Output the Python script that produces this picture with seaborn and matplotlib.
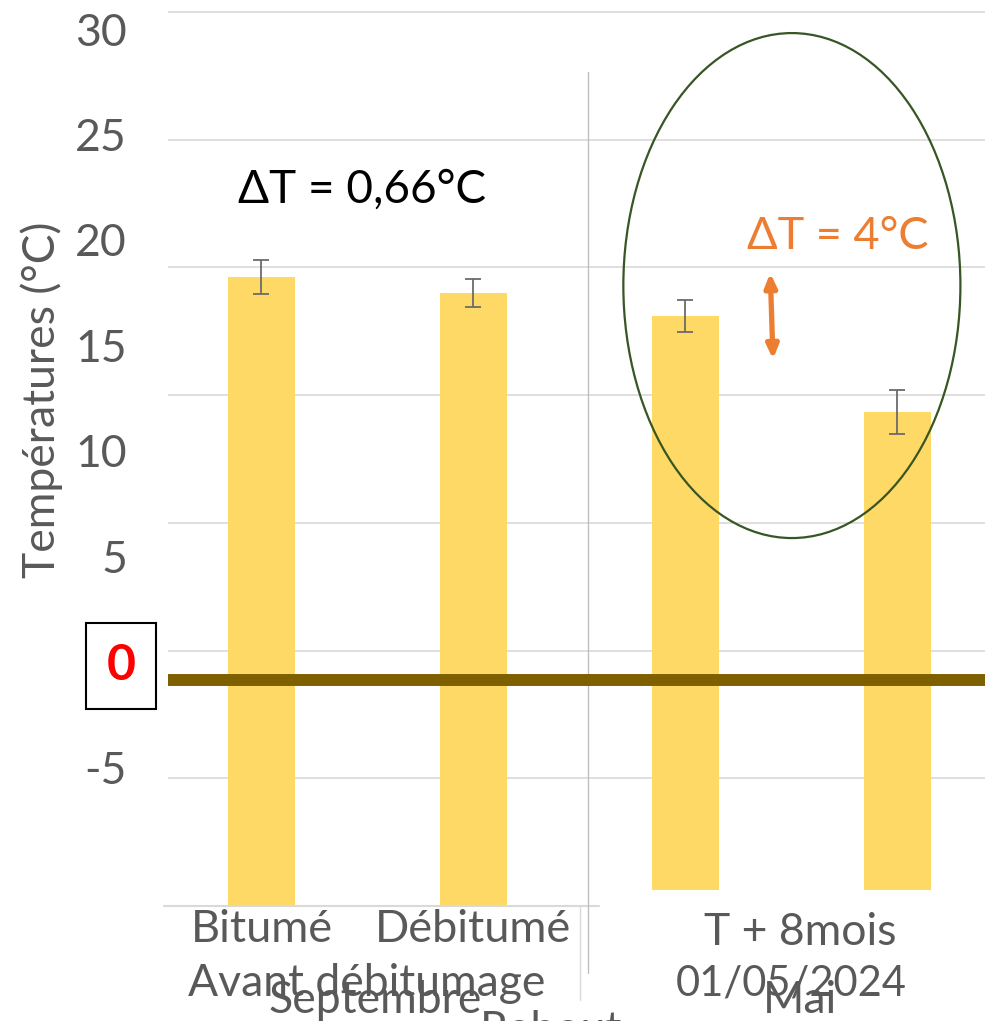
import numpy as np
import pandas as pd
import seaborn as sns
import matplotlib.pyplot as plt
from matplotlib.patches import Ellipse

sns.set_style("white")
plt.rcParams['font.family'] = ['Lato', 'DejaVu Sans']

# donnees
categories = ['Bitumé', 'Débitumé', 'Bitumé mai', 'Débitumé mai']
temperatures = [19.62, 19.0, 18.1, 14.34]
erreurs = [0.67, 0.53, 0.61, 0.88]
bases = [-5, -5, -4.37, -4.37]
graduations = [30, 25, 20, 15, 10, 5, 0, -5]
grille = [30, 25, 20, 15, 10, 5, 0]

df = pd.DataFrame({'cat': categories,
                   'haut': np.array(temperatures) - np.array(bases)})

gris = '#595959'
fig = plt.figure(figsize=(9.85, 10.21), dpi=100)
ax = fig.add_axes([168/985, 115/1021, 817/985, 906/1021])

sns.barplot(data=df, x='cat', y='haut', bottom=bases, width=0.316,
            color='#FFD966', saturation=1, errorbar=None, linewidth=0, ax=ax)
ax.errorbar(x=np.arange(4), y=temperatures, yerr=erreurs, fmt='none',
            ecolor='#6b6b6b', elinewidth=1.3, capsize=5.5, capthick=1.3, zorder=3)

ax.set_xlim(-0.441, 3.413)
ax.set_ylim(-5, 30.47)
ax.set_yticks(grille)
ax.yaxis.grid(True, color='#D9D9D9', lw=1.2)
ax.set_axisbelow(True)
for s in ax.spines.values():
    s.set_visible(False)

ax.set_xticks([0, 1], labels=['Bitumé', 'Débitumé'])
ax.tick_params(axis='x', length=0, pad=2, labelsize=32.5, labelcolor=gris)
ax.set_xlabel('')
ax.set_ylabel('')

# axe horizontal partiel et separateurs
ax.plot([-0.46, 1.592], [-5, -5], color='#D9D9D9', lw=1.5, clip_on=False, zorder=1)
ax.plot([1.540, 1.540], [27.65, -7.62], color='#BFBFBF', lw=1.0, clip_on=False)
ax.plot([1.502, 1.502], [-5, -8.68], color='#D9D9D9', lw=1.0, clip_on=False)

# ligne du zero (marron)
ax.axhline(3.85, color='#7F6000', lw=8.6, zorder=4)

# ellipse et annotations
ax.add_patch(Ellipse((2.502, 19.29), 1.59, 19.77, fill=False,
                     ec='#375623', lw=1.6, zorder=5))
ax.annotate('', xy=(2.40, 19.78), xytext=(2.413, 16.41),
            arrowprops=dict(arrowstyle='<|-|>,head_length=0.8,head_width=0.35',
                            color='#ED7D31', lw=3.8, shrinkA=0, shrinkB=0))
ax.text(-0.111, 23.03, 'ΔT = 0,66°C', fontsize=33, color='black',
        ha='left', va='center')
ax.text(2.29, 21.23, 'ΔT = 4°C', fontsize=32.5, color='#ED7D31',
        ha='left', va='center')

# libelles de groupes sous l'axe
tr = ax.get_xaxis_transform()
ax.text(0.498, -0.085, 'Avant débitumage', transform=tr, fontsize=32,
        color=gris, ha='center', va='center')
ax.text(0.535, -0.104, 'Septembre', transform=tr, fontsize=32,
        color=gris, ha='center', va='center')
ax.text(1.03, -0.137, 'Rebout', transform=tr, fontsize=32,
        color=gris, ha='left', va='center')
ax.text(2.54, -0.0298, 'T + 8mois', transform=tr, fontsize=32,
        color=gris, ha='center', va='center')
ax.text(2.497, -0.085, '01/05/2024', transform=tr, fontsize=30,
        color=gris, ha='center', va='center')
ax.text(2.54, -0.104, 'Mai', transform=tr, fontsize=32,
        color=gris, ha='center', va='center')

# graduations en surimpression (echelle decalee)
ax2 = ax.twinx()
ax2.set_ylim(-11.58, 31.375)
ax2.yaxis.set_ticks_position('left')
ax2.set_yticks(graduations, labels=[str(g) for g in graduations])
ax2.tick_params(axis='y', length=0, pad=29.5, labelsize=32, labelcolor=gris)
for s in ax2.spines.values():
    s.set_visible(False)
for tick in ax2.yaxis.get_major_ticks():
    lab = tick.label1
    if lab.get_text() == '0':
        tick.set_pad(23.4)
        lab.set_color('#FF0000')
        lab.set_fontweight('bold')
        lab.set_fontsize(36)
        lab.set_bbox(dict(boxstyle='square,pad=0.41', fc='white', ec='black', lw=1.5))

# pas de graduations sur l'axe principal (twinx les remet)
ax.tick_params(axis='y', left=False, right=False, labelleft=False, labelright=False)

fig.text(42/985, 1 - 400/1021, 'Températures (°C)', rotation=90, fontsize=32,
         color=gris, ha='center', va='center')

fig.savefig('out.png', dpi=100)
